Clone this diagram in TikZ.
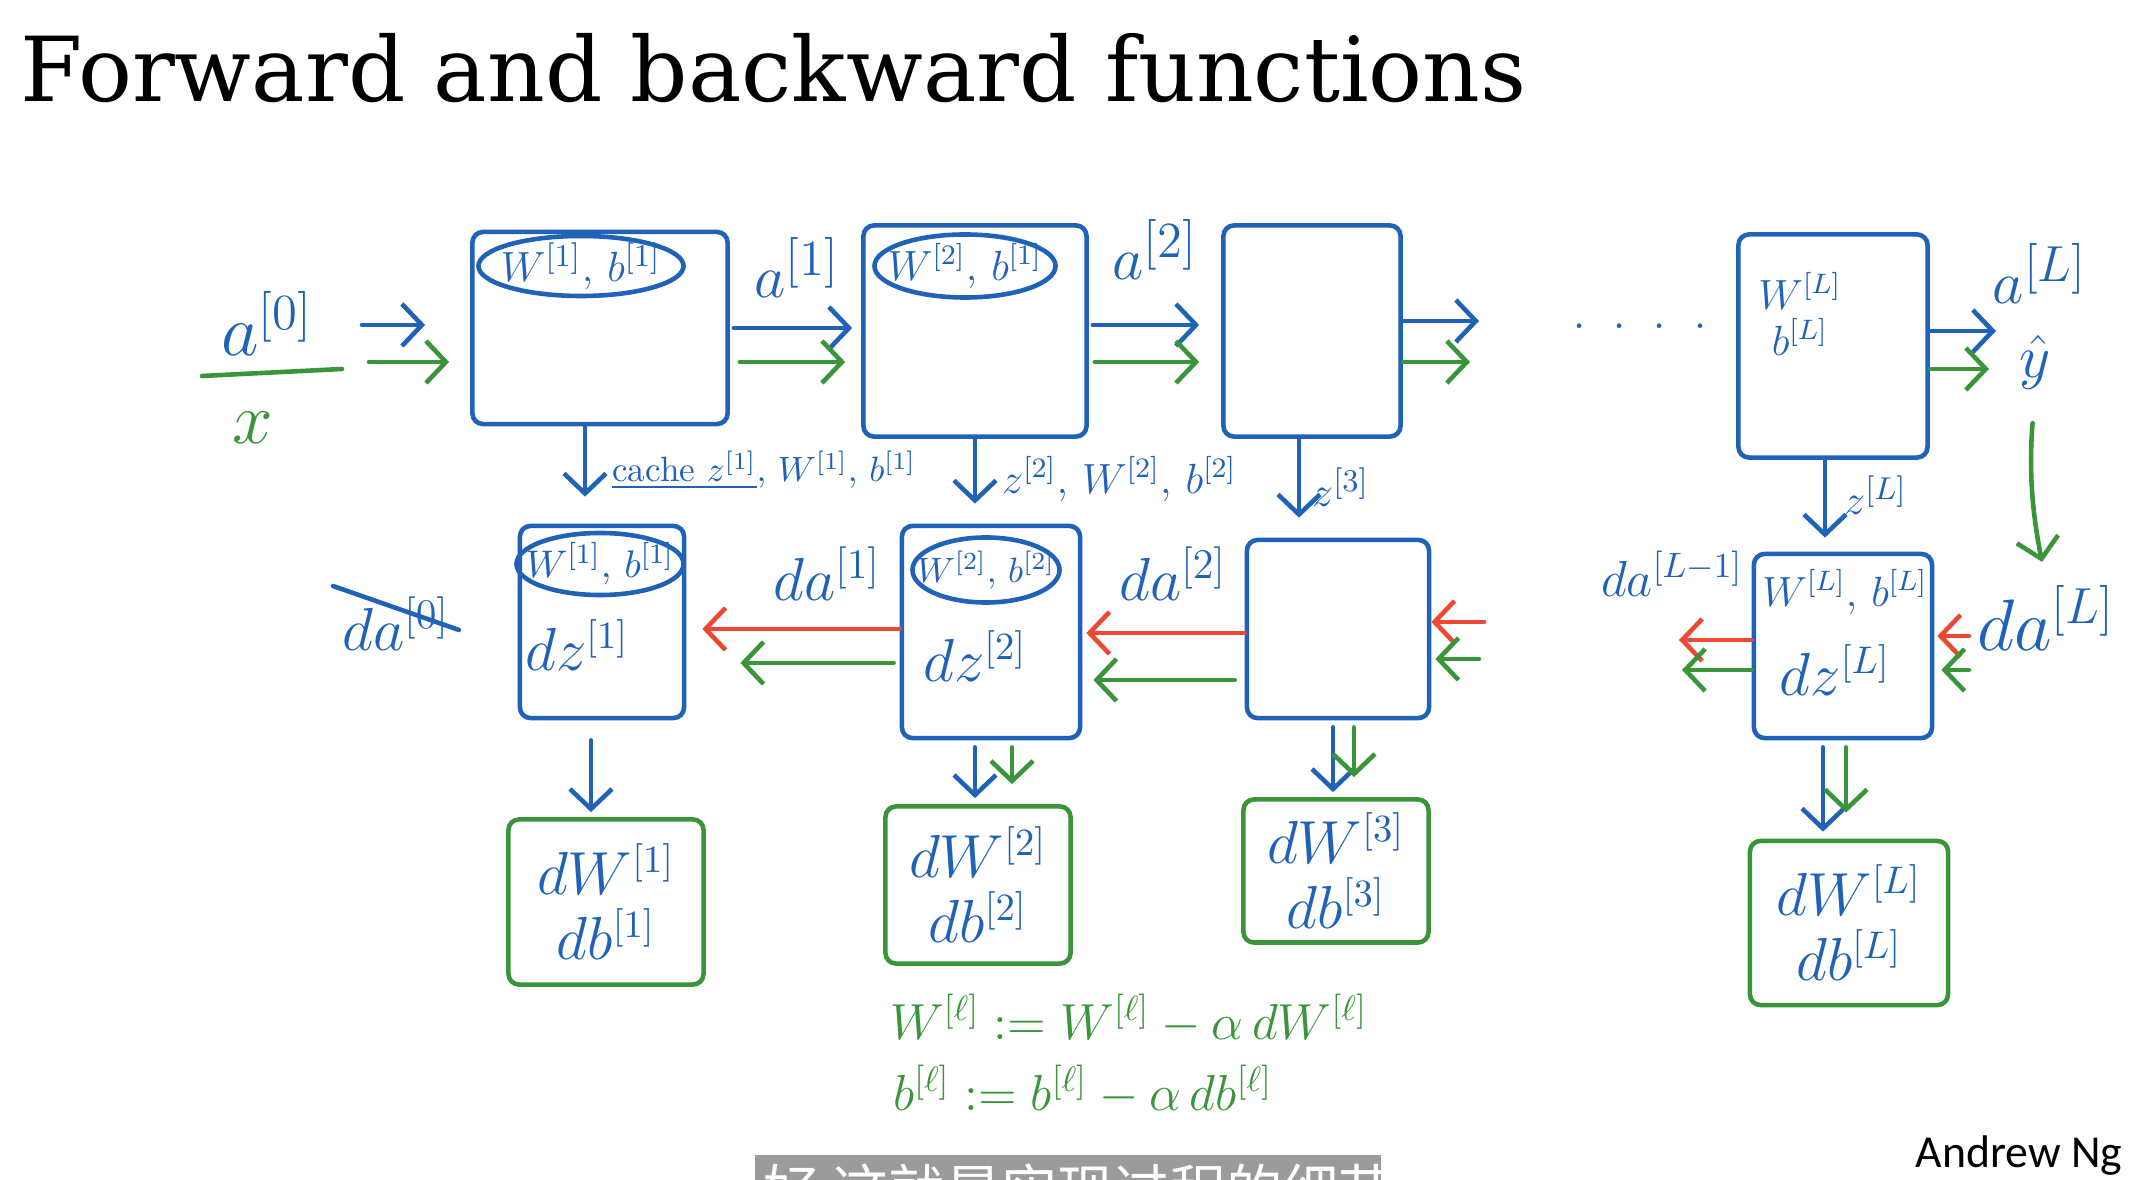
\documentclass[tikz,border=0pt]{standalone}
\usepackage{fontspec}
\newfontfamily\ngfont{Carlito}
\newfontfamily\titlefont{DejaVu Serif}
\newfontfamily\cjk{Noto Sans CJK SC}
\usetikzlibrary{shapes.geometric, arrows.meta, calc}

\definecolor{penblue}{RGB}{31,98,184}
\definecolor{pengreen}{RGB}{58,148,58}
\definecolor{penred}{RGB}{236,72,52}
\definecolor{subgray}{RGB}{155,155,155}

\tikzset{
  inkline/.style={line width=1.3pt, line cap=round, line join=round},
  layerbox/.style={inkline, draw=penblue, rounded corners=3pt, inner sep=0pt},
  gradbox/.style={inkline, draw=pengreen, rounded corners=3pt, inner sep=0pt, align=center,
    text=penblue, font=\fontsize{16}{18.5}\selectfont},
  wboval/.style={inkline, draw=penblue, ellipse, inner sep=0pt},
  hand/.style={text=penblue, inner sep=1pt, font=\fontsize{16}{19}\selectfont},
  handbig/.style={hand, font=\fontsize{22}{26}\selectfont},
  handsmall/.style={hand, font=\fontsize{10}{12}\selectfont},
  ovaltext/.style={hand, font=\fontsize{12}{14}\selectfont},
  greenhand/.style={hand, text=pengreen},
  barb/.style={inkline, -{Straight Barb[length=2mm, width=4.2mm]}},
  bluearr/.style={barb, draw=penblue},
  greenarr/.style={barb, draw=pengreen},
  redarr/.style={barb, draw=penred},
}

\begin{document}
\begin{tikzpicture}[x=0.01cm, y=-0.01cm]
  \useasboundingbox (0,0) rectangle (2144,1180);
  \fill[white] (0,0) rectangle (2144,1180);

  % Title
  \node[anchor=base west, inner sep=0pt, font=\titlefont\fontsize{25.5}{30}\selectfont] (title) at (20,102) {Forward and backward functions};

  % Forward layers
  \node[layerbox, minimum width=2.55cm, minimum height=1.92cm] (F1) at (600,328) {};
  \node[layerbox, minimum width=2.23cm, minimum height=2.11cm] (F2) at (975,331) {};
  \node[layerbox, minimum width=1.77cm, minimum height=2.11cm] (F3) at (1312,331) {};
  \node[layerbox, minimum width=1.89cm, minimum height=2.23cm] (FL) at (1833,346) {};
  \node[wboval, minimum width=2.05cm, minimum height=0.6cm] (E1) at (581,266) {};
  \node[ovaltext, font=\fontsize{13}{15}\selectfont] at (E1) {$W^{[1]},\, b^{[1]}$};
  \node[wboval, minimum width=1.81cm, minimum height=0.63cm] (E2) at (965,266) {};
  \node[ovaltext] at (E2) {$W^{[2]},\, b^{[1]}$};
  \node[ovaltext] (WL) at (1800,291) {$W^{[L]}$};
  \node[ovaltext] (bL) at (1800,337) {$b^{[L]}$};

  % Input and outputs
  \node[handbig, anchor=base] (A0) at (267,356) {$a^{[0]}$};
  \draw[inkline, pengreen] (202,376) -- (342,369);
  \node[greenhand, font=\fontsize{20}{24}\selectfont] (X) at (253,428) {$x$};
  \node[hand, font=\fontsize{19}{22}\selectfont, anchor=base] (A1) at (797,298) {$a^{[1]}$};
  \node[hand, font=\fontsize{19}{22}\selectfont, anchor=base] (A2) at (1155,280) {$a^{[2]}$};
  \node[hand, font=\fontsize{19}{22}\selectfont, anchor=base] (AL) at (2040,304) {$a^{[L]}$};
  \node[hand, font=\fontsize{19}{22}\selectfont] (yhat) at (2035,362) {$\hat{y}$};
  \node[hand] (dots) at (1640,326) {.\hspace{2.6mm}.\hspace{2.6mm}.\hspace{2.6mm}.};

  \coordinate (inb) at (362,325);
  \coordinate (ing) at (369,362);
  \draw[bluearr, shorten >=0.45cm] (inb) -- (F1.west |- inb);
  \draw[greenarr, shorten >=0.21cm] (ing) -- (F1.west |- ing);
  \draw[bluearr, shorten <=0.04cm, shorten >=0.09cm] (F1.east |- 0,328) -- (F2.west |- 0,328);
  \draw[greenarr, shorten <=0.1cm, shorten >=0.16cm] (F1.east |- 0,362) -- (F2.west |- 0,362);
  \draw[bluearr, shorten <=0.04cm, shorten >=0.22cm] (F2.east |- 0,325) -- (F3.west |- 0,325);
  \draw[greenarr, shorten <=0.06cm, shorten >=0.22cm] (F2.east |- 0,362) -- (F3.west |- 0,362);
  \coordinate (F3b) at (1479,321);
  \coordinate (F3g) at (1470,362);
  \draw[bluearr] (F3.east |- F3b) -- (F3b);
  \draw[greenarr] (F3.east |- F3g) -- (F3g);
  \coordinate (FLb) at (1996,331);
  \coordinate (FLg) at (1989,369);
  \draw[bluearr] (FL.east |- FLb) -- (FLb);
  \draw[greenarr] (FL.east |- FLg) -- (FLg);

  % Backward layers
  \node[layerbox, minimum width=1.64cm, minimum height=1.92cm] (B1) at (602,622) {};
  \node[layerbox, minimum width=1.78cm, minimum height=2.12cm] (B2) at (991,632) {};
  \node[layerbox, minimum width=1.82cm, minimum height=1.78cm] (B3) at (1338,629) {};
  \node[layerbox, minimum width=1.78cm, minimum height=1.84cm] (BL) at (1843,646) {};
  \node[wboval, minimum width=1.67cm, minimum height=0.62cm] (BE1) at (600,564) {};
  \node[ovaltext, font=\fontsize{11}{13}\selectfont] at (BE1) {$W^{[1]},\, b^{[1]}$};
  \node[wboval, minimum width=1.47cm, minimum height=0.65cm] (BE2) at (986,570) {};
  \node[ovaltext, font=\fontsize{10}{12}\selectfont] at (BE2) {$W^{[2]},\, b^{[2]}$};
  \node[hand] (dz1) at (577,645) {$dz^{[1]}$};
  \node[hand] (dz2) at (975,656) {$dz^{[2]}$};
  \node[ovaltext, font=\fontsize{11.5}{13}\selectfont] (wbL) at (1845,592) {$W^{[L]},\, b^{[L]}$};
  \node[hand] (dzL) at (1835,670) {$dz^{[L]}$};

  % Cache
  \draw[bluearr, shorten >=0.27cm] (F1.south -| 585,0) -- (B1.north -| 585,0);
  \draw[bluearr, shorten >=0.2cm] (F2.south) -- (F2.south |- B2.north);
  \draw[bluearr, shorten >=0.2cm] (F3.south -| 1299,0) -- (B3.north -| 1299,0);
  \draw[bluearr, shorten >=0.14cm] (FL.south -| 1825,0) -- (BL.north -| 1825,0);
  \node[handsmall, anchor=west] (C1) at (608,470) {$\underline{\mbox{cache }z^{[1]}},\, W^{[1]},\, b^{[1]}$};
  \node[handsmall, font=\fontsize{11.5}{14}\selectfont, anchor=west] (C2) at (998,479) {$z^{[2]},\, W^{[2]},\, b^{[2]}$};
  \node[handsmall, font=\fontsize{13}{15}\selectfont, anchor=west] (C3) at (1308,487) {$z^{[3]}$};
  \node[handsmall, font=\fontsize{13}{15}\selectfont, anchor=west] (CL) at (1840,495) {$z^{[L]}$};

  % Backward arrows
  \node[hand, font=\fontsize{17}{20}\selectfont] (D0) at (396,624) {$da^{[0]}$};
  \draw[inkline, penblue] ($(D0.west)+(-5,-38)$) -- ($(D0.east)+(5,6)$);
  \node[hand, font=\fontsize{17}{20}\selectfont] (D1) at (827,574) {$da^{[1]}$};
  \node[hand, font=\fontsize{17}{20}\selectfont] (D2) at (1173,574) {$da^{[2]}$};
  \node[hand, font=\fontsize{14}{17}\selectfont] (DLm) at (1672,574) {$da^{[L-1]}$};
  \node[hand, font=\fontsize{20}{24}\selectfont] (DL) at (2046,618) {$da^{[L]}$};

  \draw[redarr, shorten >=0.16cm] (B2.west |- 0,629) -- (B1.east |- 0,629);
  \draw[greenarr, shorten <=0.06cm, shorten >=0.54cm] (B2.west |- 0,663) -- (B1.east |- 0,663);
  \draw[redarr, shorten >=0.04cm] (B3.west |- 0,633) -- (B2.east |- 0,633);
  \draw[greenarr, shorten <=0.1cm, shorten >=0.11cm] (B3.west |- 0,680) -- (B2.east |- 0,680);
  \coordinate (B3r) at (1484,622);
  \coordinate (B3g) at (1479,659);
  \draw[redarr] (B3r) -- (B3.east |- B3r);
  \draw[greenarr, shorten >=0.04cm] (B3g) -- (B3.east |- B3g);
  \coordinate (BLr) at (1679,640);
  \coordinate (BLg) at (1682,670);
  \draw[redarr] (BL.west |- BLr) -- (BLr);
  \draw[greenarr] (BL.west |- BLg) -- (BLg);
  \draw[redarr, shorten <=0.04cm, shorten >=0.03cm] (DL.west |- 0,636) -- (BL.east |- 0,636);
  \draw[greenarr, shorten <=0.04cm, shorten >=0.07cm] (DL.west |- 0,670) -- (BL.east |- 0,670);
  \draw[greenarr, shorten <=0.3cm, shorten >=0.2cm] (yhat.south) to[bend right=8] (DL.north);

  % Gradients
  \node[gradbox, minimum width=1.95cm, minimum height=1.65cm] (G1) at (606,902) {$dW^{[1]}$\\$db^{[1]}$};
  \node[gradbox, minimum width=1.85cm, minimum height=1.57cm] (G2) at (978,885) {$dW^{[2]}$\\$db^{[2]}$};
  \node[gradbox, minimum width=1.85cm, minimum height=1.43cm] (G3) at (1336,871) {$dW^{[3]}$\\$db^{[3]}$};
  \node[gradbox, minimum width=1.98cm, minimum height=1.64cm] (GL) at (1849,923) {$dW^{[L]}$\\$db^{[L]}$};

  \draw[bluearr, shorten <=0.2cm, shorten >=0.05cm] (B1.south -| 591,0) -- (G1.north -| 591,0);
  \draw[bluearr, shorten <=0.07cm, shorten >=0.06cm] (B2.south -| 975,0) -- (G2.north -| 975,0);
  \draw[greenarr, shorten <=0.07cm, shorten >=0.2cm] (B2.south -| 1012,0) -- (G2.north -| 1012,0);
  \draw[bluearr, shorten <=0.07cm, shorten >=0.05cm] (B3.south -| 1333,0) -- (G3.north -| 1333,0);
  \draw[greenarr, shorten <=0.07cm, shorten >=0.2cm] (B3.south -| 1354,0) -- (G3.north -| 1354,0);
  \draw[bluearr, shorten <=0.07cm, shorten >=0.07cm] (BL.south -| 1823,0) -- (GL.north -| 1823,0);
  \draw[greenarr, shorten <=0.07cm, shorten >=0.26cm] (BL.south -| 1846,0) -- (GL.north -| 1846,0);

  % Update
  \node[greenhand, anchor=west, font=\fontsize{14.5}{17}\selectfont] (U1) at (886,1019) {$W^{[\ell]} := W^{[\ell]} - \alpha\, dW^{[\ell]}$};
  \node[greenhand, anchor=west, font=\fontsize{14.5}{17}\selectfont] (U2) at (889,1090) {$b^{[\ell]} := b^{[\ell]} - \alpha\, db^{[\ell]}$};

  % Footer
  \node[anchor=base east, inner sep=0pt, font=\ngfont\fontsize{13}{15}\selectfont] (ng) at (2123,1168) {Andrew Ng};
  \begin{scope}
    \clip (0,0) rectangle (2144,1180);
    \fill[subgray] (755,1155) rectangle (1381,1200);
    \node[anchor=north west, inner sep=0pt, text=white, font=\cjk\fontsize{16}{18}\selectfont] (sub) at (763,1163) {好\ 这就是实现过程的细节};
  \end{scope}
\end{tikzpicture}
\end{document}
